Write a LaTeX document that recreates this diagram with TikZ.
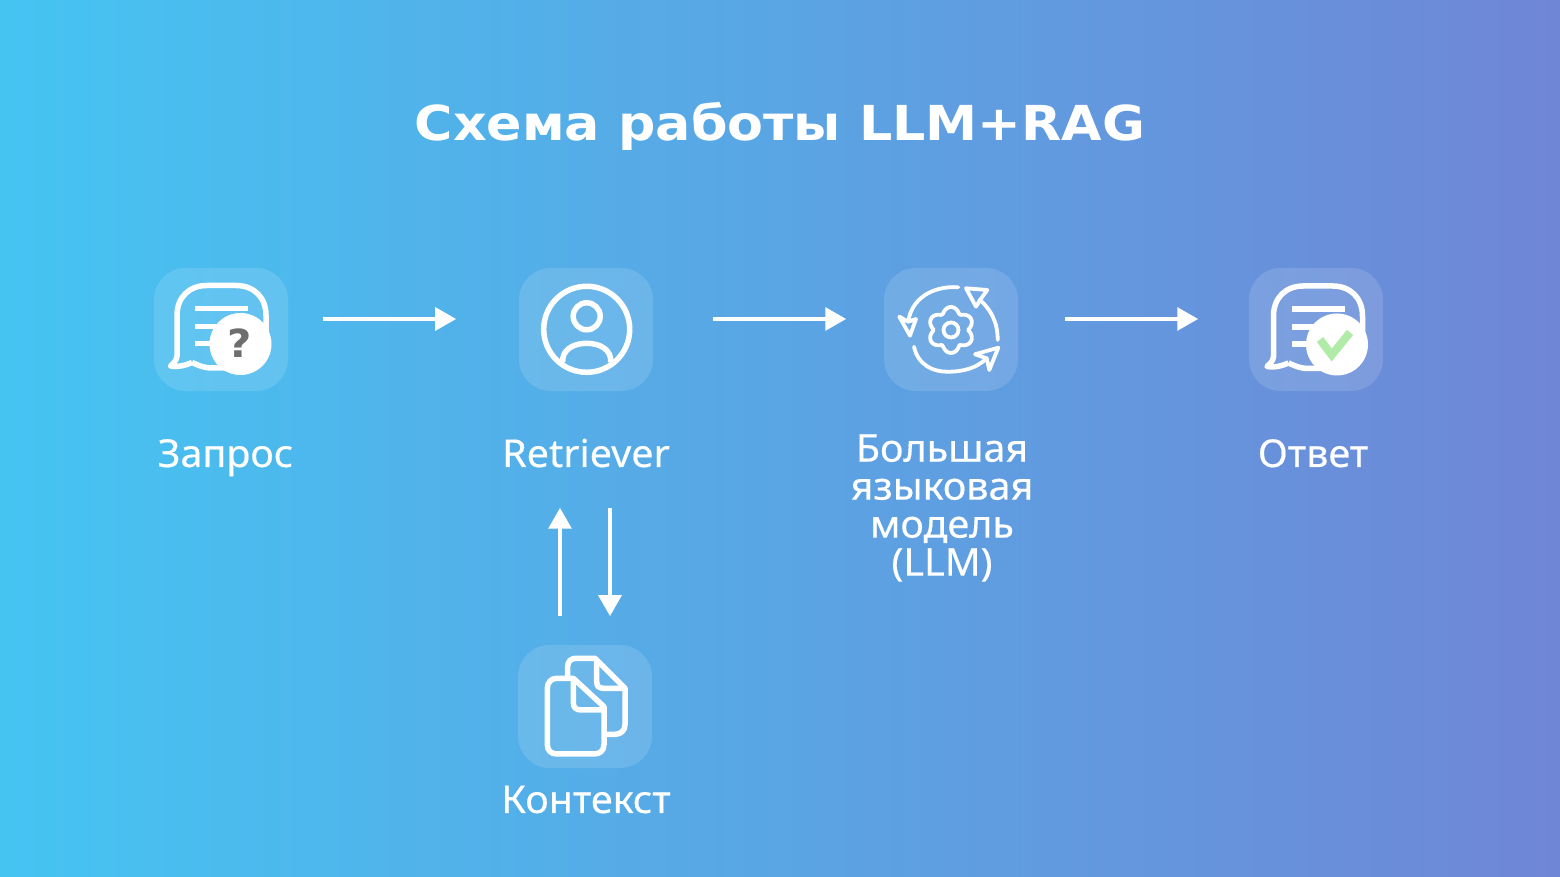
\documentclass[tikz,border=0pt]{standalone}
\usepackage{fontspec}
\setmainfont{Noto Sans}
\newfontfamily\labelfont[FakeStretch=1.03,FakeBold=0.4]{Noto Sans}
\newfontfamily\titlefont[FakeStretch=1.085]{DejaVu Sans}
\usetikzlibrary{arrows.meta}
\definecolor{bgleft}{HTML}{45C4F2}
\definecolor{bgright}{HTML}{6F86D6}
\definecolor{qgray}{HTML}{6E6E6E}
\definecolor{okgreen}{HTML}{B0EBA8}
\tikzset{
    tile/.style={minimum width=1.34cm,minimum height=1.23cm,inner sep=0pt,rounded corners=.32cm,fill=white,fill opacity=.13},
    flow/.style={draw=white,line width=.045cm,-{Triangle[length=.21cm,width=.225cm]}},
    icon/.style={draw=white,line width=.055cm,line join=round},
    thinicon/.style={draw=white,line width=.038cm,line join=round,line cap=round},
    caption/.style={text=white,font=\labelfont\fontsize{10.9pt}{10.8pt}\selectfont,align=center,inner sep=0pt,anchor=base},
    bubble/.pic={
        \draw[icon] (-29,33) .. controls (-22,36) and (-18,38.5) .. (-8,38.5) -- (25,38.5) ;
        \draw[icon] (45,20) -- (45,-14) .. controls (45,-32) and (33,-44) .. (15,-44) -- (-14,-44) .. controls (-32,-44) and (-44,-32) .. (-44,-14) -- (-44,22) .. controls (-43,28) and (-45,32) .. (-50.5,36.5) .. controls (-43,38) and (-36,36) .. (-29,33) ;
        \draw[icon] (-26,-21) -- (27,-21) ;
        \draw[icon] (-26,-3) -- (15,-3) ;
        \draw[icon] (-26,14) -- (5,14) ;
        \fill[white] (19.5,14.5) circle (31) ;
    },
}
\begin{document}
\begin{tikzpicture}[x=.01cm,y=-.01cm]
        \shade[left color=bgleft,right color=bgright] (0,0) rectangle (1560,877) ;
        \node[text=white,font=\titlefont\bfseries\fontsize{13.7pt}{14pt}\selectfont,inner sep=0pt,anchor=base] (title) at (780,141) {Схема работы LLM+RAG} ;
        \node[tile] (zapros) at (221,329.5) {} ;
        \node[tile] (retriever) at (586,329.5) {} ;
        \node[tile] (llm) at (951,329.5) {} ;
        \node[tile] (otvet) at (1316,329.5) {} ;
        \node[tile] (kontekst) at (585,706.5) {} ;
        \node[caption] (zaproslabel) at (225.5,467) {Запрос} ;
        \node[caption] (retrieverlabel) at (586,467) {Retriever} ;
        \node[caption,anchor=center] (llmlabel) at (942,508) {Большая\\языковая\\модель\\(LLM)} ;
        \node[caption] (otvetlabel) at (1313,467) {Ответ} ;
        \node[caption] (kontekstlabel) at (586,813) {Контекст} ;
        \draw[flow] ([shift={(34,-10.5)}]zapros.east) -- ([shift={(-62,-10.5)}]retriever.west) ;
        \draw[flow] ([shift={(59,-10.5)}]retriever.east) -- ([shift={(-37,-10.5)}]llm.west) ;
        \draw[flow] ([shift={(46,-10.5)}]llm.east) -- ([shift={(-50,-10.5)}]otvet.west) ;
        \draw[flow] ([shift={(-25,-28)}]kontekst.north) -- ([shift={(-26,116)}]retriever.south) ;
        \draw[flow] ([shift={(24,116)}]retriever.south) -- ([shift={(25,-28)}]kontekst.north) ;
        % Запрос
        \pic at (zapros) {bubble} ;
        \node[text=qgray,font=\titlefont\bfseries\fontsize{11pt}{11pt}\selectfont,inner sep=0pt] (qmark) at ([shift={(19,13.5)}]zapros.center) {?} ;
        % Retriever
        \begin{scope}[shift={(586.7,329.3)}]
        \draw[icon] (0,0) circle (43) ;
        \draw[icon] (0,-13) circle (13.5) ;
        \draw[icon] (-24,33) .. controls (-25,21) and (-14,14) .. (0,14) .. controls (14,14) and (25,21) .. (24,33) ;
        \end{scope}
        % LLM
        \begin{scope}[shift={(951,330)}]
        \draw[thinicon] plot[domain=0:358,samples=60,smooth cycle] (\x:{17+6*abs(cos(3*(\x-90)))}) ;
        \draw[thinicon] (0,0) circle (7.5) ;
        \draw[thinicon] (7.3,-42.7) .. controls (-20,-44.5) and (-40,-30) .. (-42.7,-8.3) ;
        \draw[thinicon] (-42.7,-8.3) -- (-51.7,-13.3) -- (-41,5.7) -- (-35,-11) -- cycle ;
        \draw[thinicon] (46.7,10) .. controls (46.7,-8) and (40,-20) .. (29,-30) ;
        \draw[thinicon] (29,-30) -- (36.3,-40) -- (15,-41.7) -- (25,-23.3) -- cycle ;
        \draw[thinicon] (-37,16.7) .. controls (-33,35) and (-18,41.7) .. (-4.3,41.7) .. controls (12,42) and (26,38) .. (35.7,28.3) ;
        \draw[thinicon] (35.7,28.3) -- (24,24.3) -- (47.3,17.7) -- (38.3,40) -- cycle ;
        \end{scope}
        % Ответ
        \pic at ([shift={(1.5,.5)}]otvet.center) {bubble} ;
        \draw[okgreen,line width=.08cm] ([shift={(4,10)}]otvet.center) -- ([shift={(15.7,25.5)}]otvet.center) -- ([shift={(34,3)}]otvet.center) ;
        % Контекст
        \begin{scope}[shift={(585,706.5)}]
        \draw[icon] (-17.3,-28) -- (-17.3,-40) .. controls (-17.3,-45) and (-14,-48.2) .. (-9,-48.2) -- (10,-48.2) -- (40,-18.2) -- (40,18) .. controls (40,24) and (36,27.8) .. (30,27.8) -- (19,27.8) ;
        \draw[icon] (11.7,-46.5) -- (11.7,-25) .. controls (11.7,-20) and (14,-18.2) .. (19,-18.2) -- (40,-18.2) ;
        \draw[icon] (-11.7,-28.2) -- (19,.2) -- (19,38) .. controls (19,44) and (15,47.5) .. (9,47.5) -- (-28,47.5) .. controls (-34,47.5) and (-37.7,44) .. (-37.7,38) -- (-37.7,-18) .. controls (-37.7,-24) and (-34,-28.2) .. (-28,-28.2) -- cycle ;
        \draw[icon] (-11.7,-28.2) -- (-11.7,-4) .. controls (-11.7,1) and (-9,3.5) .. (-4,3.5) -- (19,3.5) ;
        \end{scope}
    \end{tikzpicture}
\end{document}
